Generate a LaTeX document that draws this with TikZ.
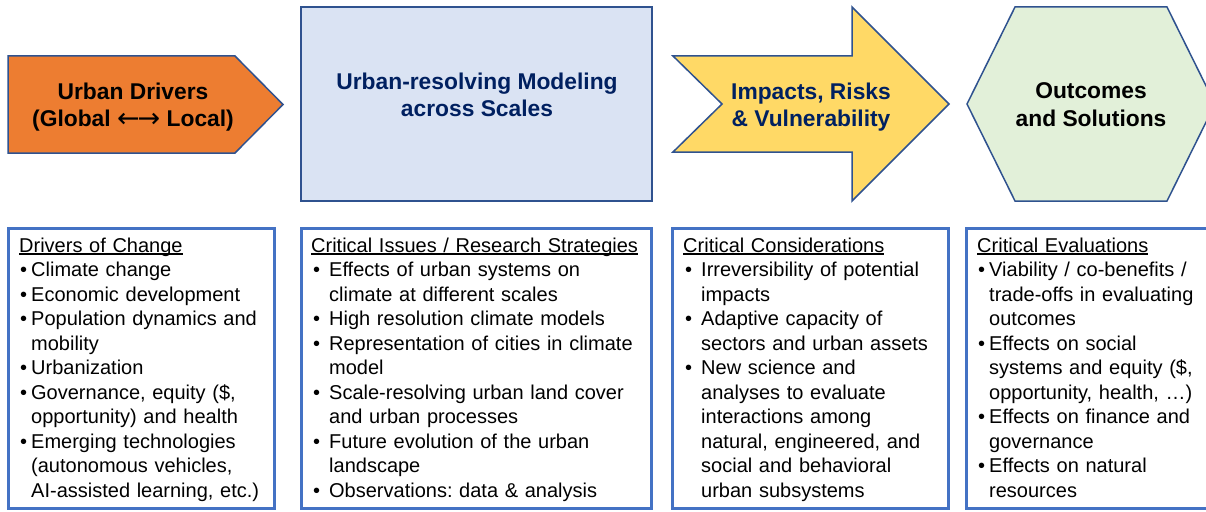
\documentclass[tikz,border=0pt]{standalone}
\usepackage{fontspec}
\setmainfont{Liberation Sans}
\newfontfamily\arrowfont{DejaVu Sans}
\frenchspacing
\definecolor{orangeF}{HTML}{ED7D31}
\definecolor{shapeB}{HTML}{2F528F}
\definecolor{blueF}{HTML}{DAE3F3}
\definecolor{yellowF}{HTML}{FFD966}
\definecolor{greenF}{HTML}{E2F0D9}
\definecolor{navy}{HTML}{002060}
\definecolor{boxB}{HTML}{4472C4}
\newlength\bhang
\newlength\boff
\newcommand\bi[1]{\par\hangindent=\bhang\hangafter=1\noindent\makebox[\bhang][l]{\hspace{\boff}•}#1}
\newcommand\ulx[1]{\setbox0\hbox{#1}\rlap{\rule[-2.6pt]{\wd0}{1.3pt}}\box0}
\tikzset{
  shapeline/.style={draw=shapeB, line width=1.5pt, line join=miter},
  head/.style={font=\fontsize{22.8}{27.5}\selectfont\bfseries, align=center, inner sep=0pt},
  listbox/.style={draw=boxB, line width=3pt},
  listtext/.style={font=\fontsize{20}{24.5}\selectfont\frenchspacing, text width=420pt, align=left, inner sep=0pt, anchor=base west},
}
\begin{document}
\begin{tikzpicture}[x=1pt,y=-1pt]
\clip (0,0) rectangle (1206,511);
\fill[white] (0,0) rectangle (1206,511);
% top row shapes
\draw[shapeline, fill=orangeF] (8,56) -- (235,56) -- (283,104.5) -- (235,153) -- (8,153) -- cycle;
\node[head, text=black] (drv) at (133,107.2) {Urban Drivers\\(Global {\arrowfont\fontsize{27}{27.5}\selectfont\mdseries\raisebox{-1pt}{←\kern-2pt→}} Local)};

\draw[shapeline, fill=blueF] (301,7) rectangle (652,201);
\node[head, text=navy] (mod) at (477,95) {Urban-resolving Modeling\\across Scales};

\draw[shapeline, fill=yellowF] (673,56) -- (852,56) -- (852,7) -- (949,104) -- (852,201) -- (852,152) -- (673,152) -- (722,104) -- cycle;
\node[head, text=navy] (imp) at (811,107) {Impacts, Risks\\\& Vulnerability};

\draw[shapeline, fill=greenF] (1015,7) -- (1167,7) -- (1215,104) -- (1167,201) -- (1015,201) -- (967,104) -- cycle;
\node[head, text=black] (out) at (1091,104.5) {Outcomes\\and Solutions};

% bottom boxes
\draw[listbox] (8.5,228.5) rectangle (274.5,508.5);
\node[listtext] (b1) at (19,252) {\setlength\bhang{12pt}\setlength\boff{1pt}%
\ulx{Drivers of Change}
\bi{Climate change}
\bi{Economic development}
\bi{Population dynamics and\newline mobility}
\bi{Urbanization}
\bi{Governance, equity (\$,\newline opportunity) and health}
\bi{Emerging technologies\newline (autonomous vehicles,\newline AI-assisted learning, etc.)}\par};

\draw[listbox] (301.5,228.5) rectangle (651.5,508.5);
\node[listtext] (b2) at (311,252) {\setlength\bhang{18pt}\setlength\boff{2pt}%
\ulx{Critical Issues / Research Strategies}
\bi{Effects of urban systems on\newline climate at different scales}
\bi{High resolution climate models}
\bi{Representation of cities in climate\newline model}
\bi{Scale-resolving urban land cover\newline and urban processes}
\bi{Future evolution of the urban\newline landscape}
\bi{Observations: data \& analysis}\par};

\draw[listbox] (672,228.5) rectangle (948.5,508.5);
\node[listtext] (b3) at (683,252) {\setlength\bhang{18pt}\setlength\boff{2pt}%
\ulx{Critical Considerations}
\bi{Irreversibility of potential\newline impacts}
\bi{Adaptive capacity of\newline sectors and urban assets}
\bi{New science and\newline analyses to evaluate\newline interactions among\newline natural, engineered, and\newline social and behavioral\newline urban subsystems}\par};

\draw[listbox] (966,228.5) rectangle (1215,508.5);
\node[listtext] (b4) at (977,252) {\setlength\bhang{12pt}\setlength\boff{1pt}%
\ulx{Critical Evaluations}
\bi{Viability / co-benefits /\newline trade-offs in evaluating\newline outcomes}
\bi{Effects on social\newline systems and equity (\$,\newline opportunity, health, …)}
\bi{Effects on finance and\newline governance}
\bi{Effects on natural\newline resources}\par};
\end{tikzpicture}
\end{document}
